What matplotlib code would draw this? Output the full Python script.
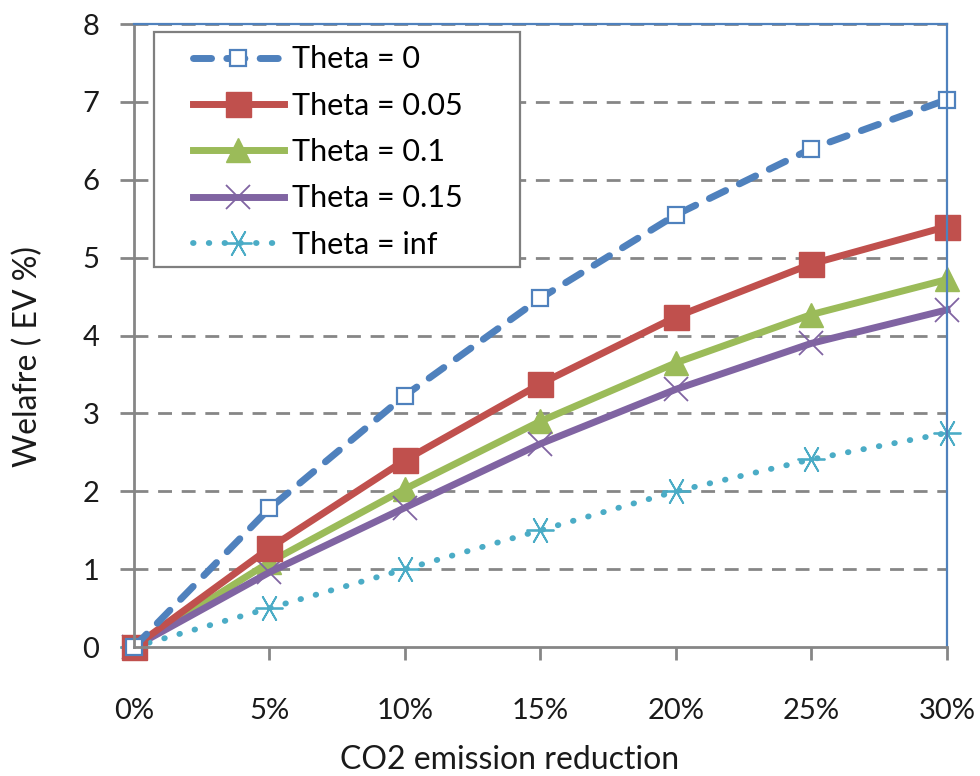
import matplotlib
matplotlib.use("Agg")
import matplotlib.pyplot as plt
from matplotlib.patches import Rectangle

plt.rcParams.update({
    "font.family": ["Lato", "DejaVu Sans"],
    "font.size": 21,
})

# data
reduction = [0, 5, 10, 15, 20, 25, 30]
theta_0 = [0, 1.78, 3.23, 4.48, 5.55, 6.40, 7.03]
theta_005 = [0, 1.27, 2.40, 3.38, 4.24, 4.92, 5.40]
theta_01 = [0, 1.09, 2.03, 2.90, 3.65, 4.27, 4.72]
theta_015 = [0, 0.96, 1.79, 2.61, 3.31, 3.90, 4.33]
theta_inf = [0, 0.50, 1.00, 1.50, 2.00, 2.41, 2.75]
labels = ["Theta = 0", "Theta = 0.05", "Theta = 0.1", "Theta = 0.15", "Theta = inf"]
x_ticks = ["0%", "5%", "10%", "15%", "20%", "25%", "30%"]

C_BLUE, C_RED, C_GREEN, C_PURPLE, C_CYAN = "#4F81BD", "#C0504D", "#9BBB59", "#8064A2", "#4BACC6"
GRAY = "#868686"
TXT = "#1a1a1a"

fig = plt.figure(figsize=(9.8, 7.76), dpi=100)
ax = fig.add_axes([0.1367, 0.1662, 0.8296, 0.8028])

lw = 5
ax.plot(reduction, theta_0, color=C_BLUE, lw=lw, ls=(0, (2.6, 2.2)),
        dash_capstyle="round", marker="s", ms=12, mfc="white", mec=C_BLUE,
        mew=1.6, label=labels[0], zorder=5)
ax.plot(reduction, theta_005, color=C_RED, lw=lw, marker="s", ms=18,
        mfc=C_RED, mec=C_RED, label=labels[1], zorder=4)
ax.plot(reduction, theta_01, color=C_GREEN, lw=lw, marker="^", ms=17,
        mfc=C_GREEN, mec=C_GREEN, label=labels[2], zorder=3)
ax.plot(reduction, theta_015, color=C_PURPLE, lw=lw, marker="x", ms=17,
        mew=1.3, mec=C_PURPLE, label=labels[3], zorder=3)
ax.plot(reduction, theta_inf, color=C_CYAN, lw=4.2, ls=(0, (0.1, 2.6)),
        dash_capstyle="round", marker=(6, 2, 90), ms=20,
        mew=1.3, mec=C_CYAN, label=labels[4], zorder=3)

ax.set_xlim(0, 30)
ax.set_ylim(0, 8)
ax.set_xticks(reduction)
ax.set_xticklabels(x_ticks)
ax.set_yticks(range(0, 9))

for y in range(1, 9):
    ax.axhline(y, color=GRAY, lw=2, ls=(0, (5, 3.5)), zorder=1)

for side in ("top", "right"):
    ax.spines[side].set_color(C_BLUE)
    ax.spines[side].set_linewidth(1.6)
for side in ("left", "bottom"):
    ax.spines[side].set_color(GRAY)
    ax.spines[side].set_linewidth(2)
for s in ax.spines.values():
    s.set_zorder(6)

ax.tick_params(axis="y", direction="out", length=10, width=2, color=GRAY,
               pad=15, labelsize=21, labelcolor=TXT)
ax.tick_params(axis="x", direction="out", length=9, width=2, color=GRAY,
               pad=28, labelsize=21, labelcolor=TXT)

ax.set_xlabel("CO2 emission reduction", fontsize=23, color=TXT)
ax.set_ylabel("Welafre ( EV %)", fontsize=23, color=TXT)
ax.xaxis.set_label_coords(0.4625, -0.157)
ax.yaxis.set_label_coords(-0.112, 0.466)

# legend box drawn as its own rectangle, entries placed inside it
box = Rectangle((0.0246, 0.610), 0.450, 0.377, transform=ax.transAxes,
                facecolor="white", edgecolor="#7f7f7f", lw=1.6, zorder=7)
ax.add_patch(box)
leg = ax.legend(loc="upper left", bbox_to_anchor=(0.072, 0.966), fontsize=22,
                frameon=False, handlelength=3.0, handletextpad=0.25,
                labelspacing=0.6, borderpad=0, borderaxespad=0)
leg.set_zorder(8)

for line in ax.lines:
    line.set_clip_on(False)

fig.savefig("out.png", dpi=100)
